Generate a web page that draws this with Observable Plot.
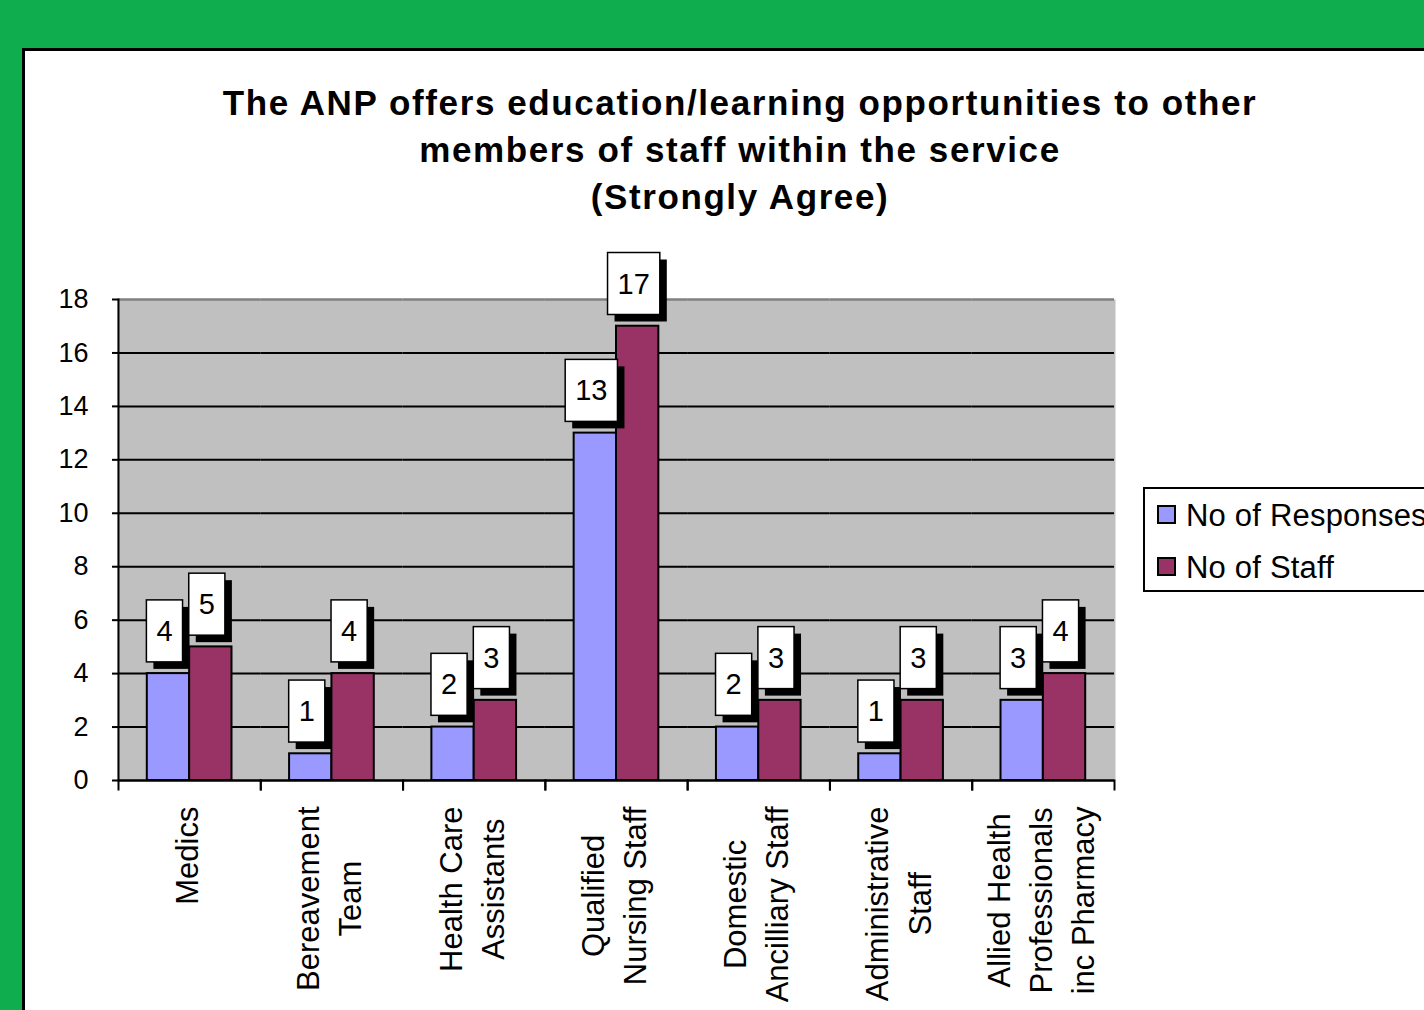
<!DOCTYPE html>
<html><head><meta charset="utf-8">
<script src="https://cdn.jsdelivr.net/npm/d3@7"></script>
<script src="https://cdn.jsdelivr.net/npm/@observablehq/plot@0.6"></script>
<style>
html,body{margin:0;padding:0;width:1424px;height:1010px;overflow:hidden;background:#0FAD4E;font-family:"Liberation Sans",Arial,sans-serif;}
#panel{position:absolute;left:22px;top:48px;width:1420px;height:980px;background:#fff;border:3px solid #000;}
#title{position:absolute;left:190px;width:1100px;top:79px;text-align:center;font-weight:bold;font-size:35px;line-height:47px;letter-spacing:1.6px;color:#000;font-family:"Liberation Sans",Arial,sans-serif;}
#chart{position:absolute;left:0;top:0;}
#legend{position:absolute;left:1143px;top:487px;width:300px;height:101px;border:2px solid #000;background:#fff;}
.li{position:absolute;left:12px;font-size:31px;line-height:31px;letter-spacing:0.2px;color:#000;white-space:nowrap;}
.sw{display:inline-block;width:15px;height:15px;border:2px solid #000;margin-right:10px;vertical-align:2px;}
</style></head>
<body>
<div id="panel"></div>
<div id="title">The ANP offers education/learning opportunities to other<br>members of staff within the service<br>(Strongly Agree)</div>
<div id="chart"></div>
<div id="legend"></div>
<script>
const categories = ["Medics", "Bereavement\nTeam", "Health Care\nAssistants", "Qualified\nNursing Staff", "Domestic\nAncilliary Staff", "Administrative\nStaff", "Allied Health\nProfessionals\ninc Pharmacy"];
const seriesNames = ["No of Responses", "No of Staff"];
const responses = [4, 1, 2, 13, 2, 1, 3];
const staff = [5, 4, 3, 17, 3, 3, 4];
const colors = ["#9999FF", "#993366"];
const yTicks = [0, 2, 4, 6, 8, 10, 12, 14, 16, 18];

const data = [];
categories.forEach((c, i) => {
  data.push({cat: c, series: seriesNames[0], value: responses[i]});
  data.push({cat: c, series: seriesNames[1], value: staff[i]});
});

const plot = Plot.plot({
  width: 1424, height: 1010,
  marginLeft: 118, marginRight: 310, marginTop: 299, marginBottom: 230,
  style: {background: "transparent", fontFamily: "Liberation Sans, Arial, sans-serif", color: "#000"},
  fx: {domain: categories, padding: 0, round: false, label: null},
  x: {domain: seriesNames, paddingInner: 0, paddingOuter: 0.68, round: false, axis: null},
  y: {domain: [0, 18], label: null},
  color: {domain: seriesNames, range: colors},
  marks: [
    Plot.frame({fill: "#C0C0C0", stroke: null, insetLeft: -1, insetRight: -1}),
    Plot.gridY(yTicks.filter(d => d < 18), {stroke: "#000", strokeOpacity: 1, strokeWidth: 2}),
    Plot.ruleY([18], {stroke: "#808080", strokeWidth: 2.5}),
    Plot.barY(data, {fx: "cat", x: "series", y: "value", fill: "series", stroke: "#000", strokeWidth: 2}),
    Plot.frame({anchor: "left", facetAnchor: "left", stroke: "#000", strokeWidth: 2}),
    Plot.ruleY([0], {stroke: "#000", strokeWidth: 2}),
    Plot.frame({anchor: "left", insetTop: 481, insetBottom: -9, stroke: "#000", strokeWidth: 2}),
    Plot.frame({anchor: "right", insetTop: 481, insetBottom: -9, stroke: "#000", strokeWidth: 2}),
    Plot.axisY({ticks: yTicks, tickSize: 6, tickPadding: 24, fontSize: 27, label: null, stroke: "#000", strokeWidth: 2}),
    Plot.axisFx({anchor: "bottom", tickSize: 0, tickPadding: 26, tickRotate: -90, fontSize: 31, lineHeight: 1.36, dx: -5, label: null}),
    Plot.text(data, {fx: "cat", x: "series", y: "value", text: d => String(d.value), dy: -42, dx: -4, fontSize: 29, fill: "#000", className: "lbl"})
  ]
});
document.getElementById("chart").appendChild(plot);

// centre the lines of each category label within its block (block stays top-anchored)
plot.querySelectorAll('g[aria-label="fx-axis tick label"] text').forEach(t => {
  const spans = t.querySelectorAll("tspan");
  const items = spans.length ? Array.from(spans) : [t];
  let L = 0;
  items.forEach(s => { L = Math.max(L, s.getComputedTextLength()); });
  t.setAttribute("text-anchor", "middle");
  items.forEach(s => s.setAttribute("x", -L / 2));
});

// draw white boxes with black drop shadows behind the value labels
const svgNS = "http://www.w3.org/2000/svg";
plot.querySelectorAll("g.lbl text").forEach(t => {
  const b = t.getBBox();
  const w = b.width + 20, h = 62;
  const cx = b.x + b.width / 2, cy = b.y + b.height / 2;
  const parent = t.parentNode;
  const g = document.createElementNS(svgNS, "g");
  const tr = t.getAttribute("transform");
  if (tr) g.setAttribute("transform", tr);
  const sh = document.createElementNS(svgNS, "rect");
  sh.setAttribute("x", cx - w / 2 + 7); sh.setAttribute("y", cy - h / 2 + 7);
  sh.setAttribute("width", w); sh.setAttribute("height", h); sh.setAttribute("fill", "#000");
  const bx = document.createElementNS(svgNS, "rect");
  bx.setAttribute("x", cx - w / 2); bx.setAttribute("y", cy - h / 2);
  bx.setAttribute("width", w); bx.setAttribute("height", h);
  bx.setAttribute("fill", "#fff"); bx.setAttribute("stroke", "#000"); bx.setAttribute("stroke-width", 1.5);
  g.appendChild(sh); g.appendChild(bx);
  parent.insertBefore(g, t);
});

const legend = document.getElementById("legend");
seriesNames.forEach((s, i) => {
  const d = document.createElement("div");
  d.className = "li";
  d.style.top = (11 + i * 52) + "px";
  d.innerHTML = `<span class="sw" style="background:${colors[i]}"></span>${s}`;
  legend.appendChild(d);
});
</script>
</body></html>
